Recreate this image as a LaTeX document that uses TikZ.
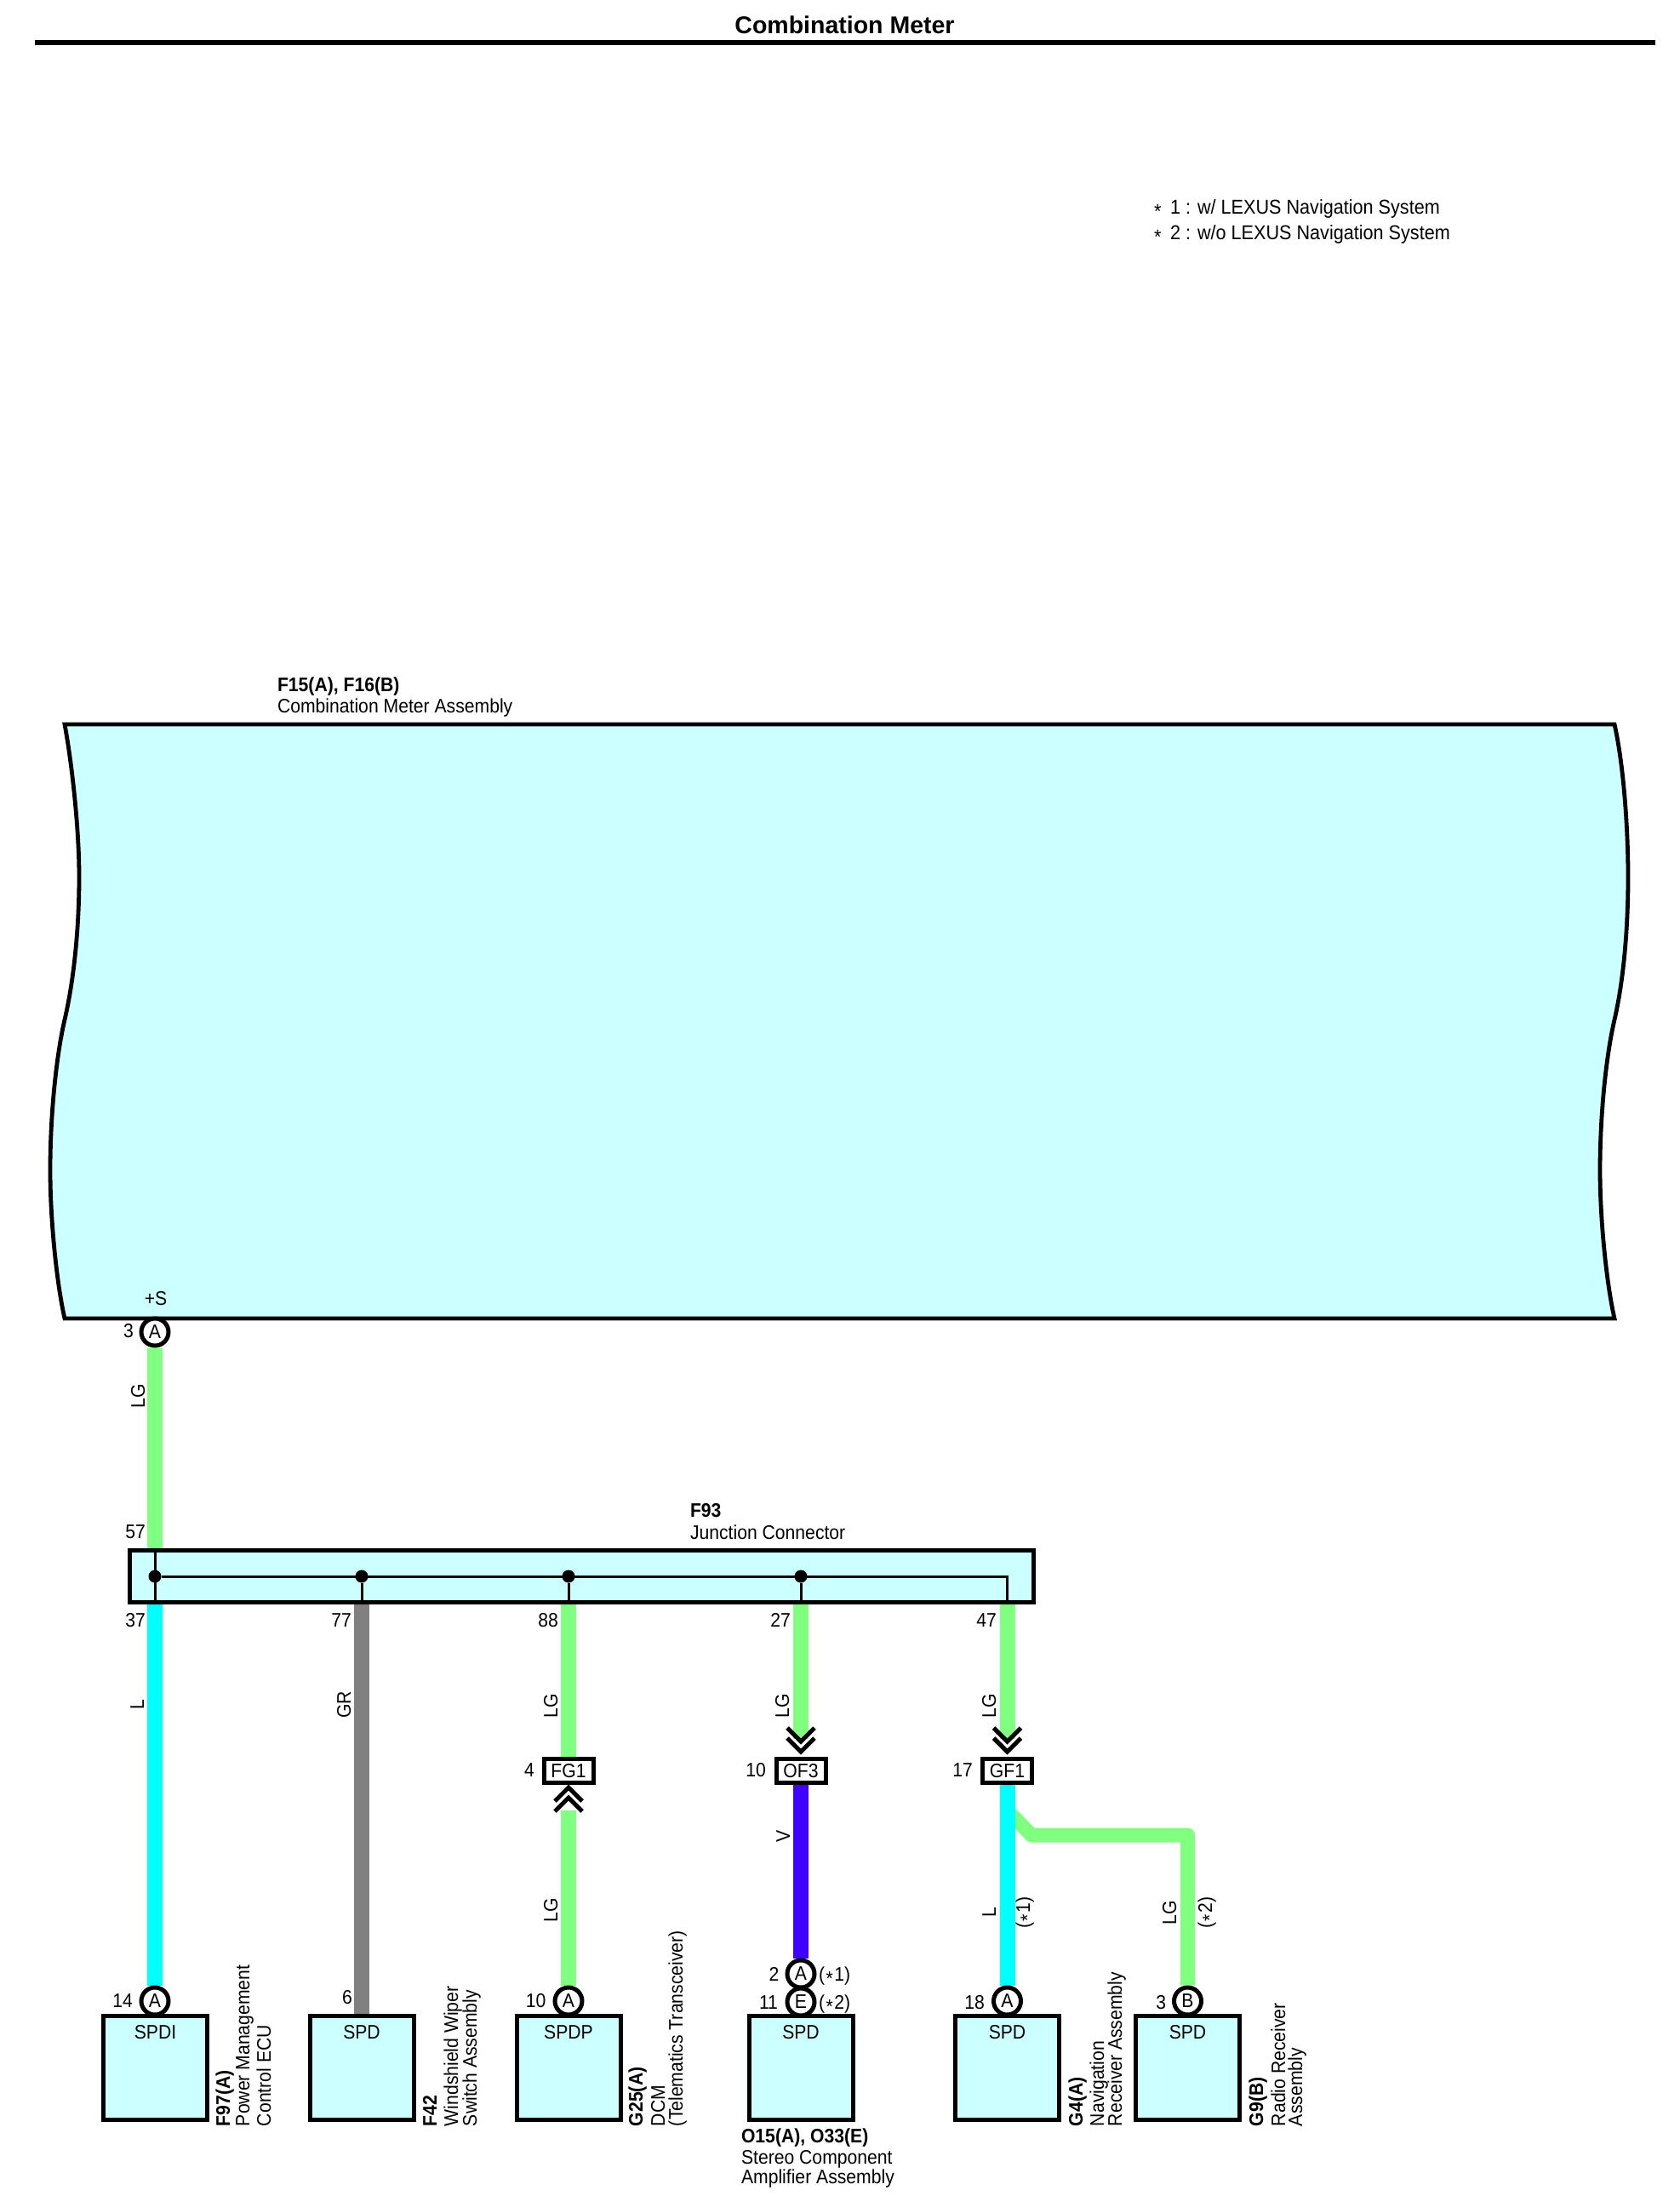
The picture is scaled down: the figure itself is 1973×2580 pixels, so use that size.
\documentclass[tikz,border=0pt]{standalone}
\usepackage{fontspec}
\setmainfont[FakeStretch=0.92]{Liberation Sans}
\newfontfamily\titlefont[BoldFont={Liberation Sans Bold}]{Liberation Sans}
\usetikzlibrary{backgrounds}
\definecolor{boxfill}{HTML}{CCFFFF}
\definecolor{wireLG}{HTML}{80FF80}
\definecolor{wireL}{HTML}{00FFFF}
\definecolor{wireGR}{HTML}{808080}
\definecolor{wireV}{HTML}{4000FF}
\newcommand{\stp}{\raisebox{-0.22em}{*}}
\newcommand{\pstp}{\kern1.5pt\raisebox{-0.22em}{*}\kern1.5pt}
\tikzset{
  base font/.style={font=\fontsize{23}{24}\selectfont},
  txt/.style={base font,inner sep=0pt,outer sep=0pt,anchor=base west},
  note txt/.style={txt,font=\fontsize{23.5}{24}\selectfont},
  bold txt/.style={txt,font=\fontsize{23}{24}\selectfont\bfseries},
  num/.style={base font,inner sep=0pt,outer sep=0pt,anchor=base east},
  cen/.style={base font,inner sep=0pt,outer sep=0pt,anchor=base},
  wlabel/.style={cen,rotate=90},
  vtxt/.style={txt,rotate=90},
  vbold/.style={bold txt,rotate=90},
  pin/.style={base font,circle,draw=black,fill=white,line width=5pt,minimum size=32pt,inner sep=0pt},
  conn/.style={base font,rectangle,draw=black,fill=white,line width=5pt,minimum width=58pt,minimum height=28pt,inner sep=0pt},
  device/.style={rectangle,draw=black,fill=boxfill,line width=5pt,minimum width=122pt,minimum height=122pt,inner sep=0pt},
  wire/.style={line width=18pt},
  chev/.style={draw=black,line width=5pt,line cap=butt,line join=miter},
  dot/.style={circle,fill=black,minimum size=15pt,inner sep=0pt},
  bus/.style={draw=black,line width=3pt}
}
\newcommand{\chevdown}[2]{%
  \draw[chev] (#1-16,#2-28) -- (#1,#2-12) -- (#1+16,#2-28);
  \draw[chev] (#1-16,#2-16) -- (#1,#2) -- (#1+16,#2-16);}
\newcommand{\chevup}[2]{%
  \draw[chev] (#1-16,#2+28) -- (#1,#2+12) -- (#1+16,#2+28);
  \draw[chev] (#1-16,#2+16) -- (#1,#2) -- (#1+16,#2+16);}
\begin{document}
\begin{tikzpicture}[x=1pt,y=-1pt]
\useasboundingbox (0,0) rectangle (1973,2580);
% title
\node[inner sep=0pt,outer sep=0pt,anchor=base,font=\titlefont\fontsize{28.5}{30}\selectfont\bfseries] (title) at (992.5,40) {Combination Meter};
\coordinate (ruleL) at (41,50);
\coordinate (ruleR) at (1945,50);
\draw[line width=5.5pt] (ruleL) -- (ruleR);
% notes
\node[note txt] (star1) at (1356,251) {\stp};
\node[note txt] (star2) at (1356,281) {\stp};
\node[note txt] (note1) at (1375,251) {1 : w/ LEXUS Navigation System};
\node[note txt] (note2) at (1375,281) {2 : w/o LEXUS Navigation System};
% meter body
\draw[fill=boxfill,line width=4.8pt,line join=miter]
  (76,851) -- (1897,851)
  .. controls (1908,900) and (1913,975) .. (1913,1030)
  .. controls (1913,1095) and (1907,1155) .. (1897,1198)
  .. controls (1887,1241) and (1880,1310) .. (1880,1375)
  .. controls (1880,1435) and (1888,1510) .. (1897,1549)
  -- (76,1549)
  .. controls (67,1510) and (59,1435) .. (59,1375)
  .. controls (59,1310) and (66,1241) .. (76,1198)
  .. controls (86,1155) and (93,1095) .. (93,1030)
  .. controls (93,975) and (85,900) .. (76,851) -- cycle;
\node[bold txt] (m1) at (326,812) {F15(A), F16(B)};
\node[txt] (m2) at (326,837) {Combination Meter Assembly};
\node[cen] (plusS) at (183,1533) {+S};
% pins
\node[pin] (pinM) at (182,1565) {A};
\node[num] at (157,1571) {3};
\node[pin] (pin1) at (182,2351) {A};
\node[pin] (pin3) at (668,2351) {A};
\node[pin] (pin4a) at (941,2319) {A};
\node[pin] (pin4e) at (941,2352) {E};
\node[pin] (pin5) at (1183.5,2351) {A};
\node[pin] (pin6) at (1395.5,2351) {B};
% junction connector
\node[rectangle,draw=black,fill=boxfill,line width=5pt,minimum width=1062pt,minimum height=61pt,inner sep=0pt] (junc) at (683,1851.5) {};
\coordinate (j57) at (182,1821);
\coordinate (j37) at (182,1882);
\coordinate (j77) at (425,1882);
\coordinate (j88) at (668,1882);
\coordinate (j27) at (941,1882);
\coordinate (j47) at (1183.5,1882);
\node[dot] (d1) at (182,1852) {};
\node[dot] (d2) at (425,1852) {};
\node[dot] (d3) at (668,1852) {};
\node[dot] (d4) at (941,1852) {};
\coordinate (d5) at (1183.5,1852);
\draw[bus] (j57) -- (j37);
\draw[bus,line join=miter] (d1) -- (d5) -- (j47);
\draw[bus] (d2) -- (j77);
\draw[bus] (d3) -- (j88);
\draw[bus] (d4) -- (j27);
\node[bold txt] (jn1) at (811,1782) {F93};
\node[txt] (jn2) at (811,1808) {Junction Connector};
\node[num] at (171,1807) {57};
\node[num] at (171,1911) {37};
\node[num] at (413,1911) {77};
\node[num] at (656,1911) {88};
\node[num] at (929,1911) {27};
\node[num] at (1171,1911) {47};
% in-line connectors
\node[conn] (fg) at (668,2080.5) {FG1};
\node[conn] (of) at (941,2080.5) {OF3};
\node[conn] (gf) at (1183.5,2080.5) {GF1};
\node[num] at (628,2087) {4};
\node[num] at (900,2087) {10};
\node[num] at (1143,2087) {17};
\chevup{668}{2100}
\chevdown{941}{2058}
\chevdown{1183.5}{2058}
% device boxes
\node[device] (b1) at (182.5,2429) {};
\node[device] (b2) at (425,2429) {};
\node[device] (b3) at (668,2429) {};
\node[device] (b4) at (941,2429) {};
\node[device] (b5) at (1183.5,2429) {};
\node[device] (b6) at (1395.5,2429) {};
\node[cen] at (182.5,2395) {SPDI};
\node[cen] at (425,2395) {SPD};
\node[cen] at (668,2395) {SPDP};
\node[cen] at (941,2395) {SPD};
\node[cen] at (1183.5,2395) {SPD};
\node[cen] at (1395.5,2395) {SPD};
\node[num] at (156,2358) {14};
\node[num] at (414,2354) {6};
\node[num] at (641.5,2358) {10};
\node[num] at (915.5,2327) {2};
\node[num] at (914,2360) {11};
\node[txt] at (962,2327) {(\pstp1)};
\node[txt] at (962,2360) {(\pstp2)};
\node[num] at (1157,2360) {18};
\node[num] at (1370,2360) {3};
% wire junction helpers
\coordinate (fgTail) at (668,2127);
\coordinate (ofHead) at (941,2043);
\coordinate (gfHead) at (1183.5,2043);
\coordinate (sp1) at (1183.5,2127);
\coordinate (sp2) at (1212,2156);
\coordinate (sp3) at (1395.5,2156);
% wires under everything
\begin{pgfonlayer}{background}
  \draw[wire,wireLG] (pinM) -- (j57);
  \draw[wire,wireL] (j37) -- (pin1);
  \draw[wire,wireGR] (j77) -- (b2);
  \draw[wire,wireLG] (j88) -- (fg);
  \draw[wire,wireLG] (fgTail) -- (pin3);
  \draw[wire,wireLG] (j27) -- (ofHead);
  \draw[wire,wireV] (of) -- (pin4a);
  \draw[wire,wireLG] (j47) -- (gfHead);
  \draw[wire,wireLG,line width=17pt,line join=round] (sp1) -- (sp2) -- (sp3) -- (pin6);
  \draw[wire,wireL] (gf) -- (pin5);
\end{pgfonlayer}
% wire colour labels
\node[wlabel] at (170,1640) {LG};
\node[wlabel] at (169,2003) {L};
\node[wlabel] at (412,2003) {GR};
\node[wlabel] at (655,2004) {LG};
\node[wlabel] at (927,2004) {LG};
\node[wlabel] at (1170,2004) {LG};
\node[wlabel] at (928,2157) {V};
\node[wlabel] at (655,2244) {LG};
\node[wlabel] at (1170,2247) {L};
\node[wlabel] at (1210,2247) {(\pstp1)};
\node[wlabel] at (1382,2247) {LG};
\node[wlabel] at (1424,2247) {(\pstp2)};
% device captions
\node[vbold] at (270,2498) {F97(A)};
\node[vtxt] at (293,2498) {Power Management};
\node[vtxt] at (318,2498) {Control ECU};
\node[vbold] at (513,2498) {F42};
\node[vtxt] at (538,2498) {Windshield Wiper};
\node[vtxt] at (560,2498) {Switch Assembly};
\node[vbold] at (755,2498) {G25(A)};
\node[vtxt] at (781,2498) {DCM};
\node[vtxt] at (802,2498) {(Telematics Transceiver)};
\node[vbold] at (1272,2498) {G4(A)};
\node[vtxt] at (1297,2498) {Navigation};
\node[vtxt] at (1318,2498) {Receiver Assembly};
\node[vbold] at (1484,2498) {G9(B)};
\node[vtxt] at (1510,2498) {Radio Receiver};
\node[vtxt] at (1530,2498) {Assembly};
\node[bold txt] at (871,2517) {O15(A), O33(E)};
\node[txt] at (871,2542) {Stereo Component};
\node[txt] at (871,2565) {Amplifier Assembly};
\end{tikzpicture}
\end{document}
